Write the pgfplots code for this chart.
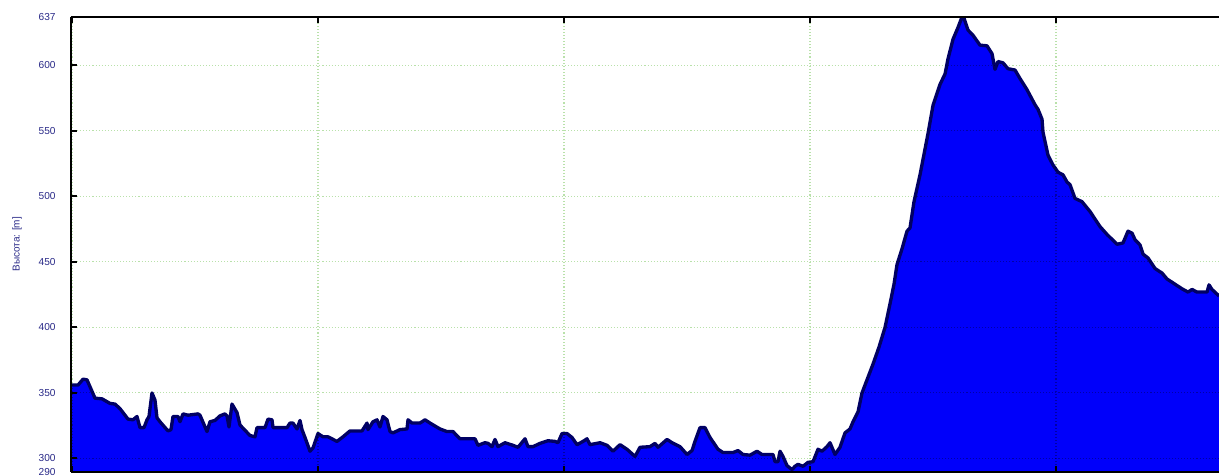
\documentclass[border=0pt]{standalone}
\usepackage{fontspec}
\setmainfont{Liberation Sans}
\usepackage{pgfplots}
\pgfplotsset{compat=1.18}
\usepackage{pgfplotstable}
\definecolor{fillblue}{RGB}{0,0,250}
\definecolor{edge}{RGB}{0,0,100}
\definecolor{lab}{RGB}{40,40,135}
\definecolor{gridg}{RGB}{185,225,170}
\pgfplotstableread{
x y
71 356
78 356
83 360.5
87 360
95 346
102 345.5
110 342
115 341.5
120 338
128 330
133 329.5
137 332
140 323.5
144 323.5
147 329.5
149 332
152 350
155 344.5
157 331
160 328
168 321
171 322
173 332
178 332
180 328
183 334
188 333
198 334
200 333
207 320.5
210 328
215 329
220 332.5
225 334
227 332.5
229 324
232 341.5
237 335
240 325.5
250 317.5
255 316.5
257 323.5
265 323.5
268 330
272 329.5
273 323.5
287 323.5
290 327
293 327
297 322.5
300 329
302 322
305 316
310 305.5
313 308
318 319
323 316.5
328 316.5
337 313
343 316.5
350 321
362 321
367 327
368 322
373 328
377 329.5
380 324
383 332
387 329.5
390 320.5
393 319.5
400 322
407 322.5
408 329.5
412 327
420 327
425 329.5
430 327
440 322.5
447 320.5
453 320.5
460 315
475 315
478 310
485 312
488 311.5
492 309
495 314.5
498 309
505 312
513 310
518 308.5
525 315
528 309
533 309
540 311.5
548 313.5
555 313
558 312
562 319
567 319
572 316
577 310.5
583 313
587 315
590 310.5
600 312
607 310
613 305.5
620 310.5
627 307
635 301.5
640 308.5
650 309
655 311.5
658 308.5
667 314.5
672 312
680 309
687 303
692 306
695 313
700 323.5
705 323.5
710 316
718 307
723 304.5
733 304.5
738 306
743 303
750 302.5
757 305.5
762 303
773 303
775 297.5
778 297.5
780 305.5
783 301.5
787 294.5
792 291.5
795 294
798 295.5
803 294
808 297
813 297.5
818 307
822 305.5
827 309
830 312
835 303
840 308.5
845 319.5
850 322.5
853 328
858 335.5
862 350
867 360
873 372
879 385
885 400
890 418
894 433
897 448
902 460
907 473.5
910 476
914 496
920 516.5
928 548
933 569.5
940 585.5
945 593.5
948 605
953 620
958 629
962 637
964 636
968 627
973 623
980 615.5
987 615
992 609
995 597
998 603
1003 602
1008 597.5
1015 596.5
1020 590
1027 581.5
1035 570
1038 566.5
1042 559
1043 549
1048 531.5
1053 524
1058 518.5
1063 516.5
1067 511
1070 509
1075 498.5
1082 496
1090 488.5
1100 477
1107 471
1117 463.5
1123 464.5
1128 473.5
1132 472
1135 467
1140 463
1143 456
1148 453
1155 445
1162 441.5
1167 437
1173 434
1182 429.5
1188 427
1192 429
1197 427
1207 427
1209 432.5
1212 429
1219 424
}\prof
\begin{document}
\begin{tikzpicture}
\begin{axis}[
 scale only axis, width=861pt, height=340.9pt,
 xmin=71, xmax=1219, ymin=290, ymax=637,
 axis y line*=left,
 axis line style={line width=1.5pt, black},
 xtick={72,318,564,810,1056}, xticklabels={},
 ytick={290,300,350,400,450,500,550,600,637},
 tick align=inside, major tick length=4.5pt,
 tick style={line width=1.5pt, black},
 grid=major,
 major grid style={gridg, line width=0.8pt, dash pattern=on 0.8pt off 1.5pt, blend mode=multiply},
 axis on top,
 /pgf/number format/assume math mode=true,
 yticklabel style={font=\fontsize{7.6}{9}\selectfont, text=lab, xshift=-8pt},
 ylabel={Высота: [m]},
 ylabel style={font=\fontsize{7.5}{9}\selectfont, text=lab, at={(axis description cs:-0.047,0.5)}, anchor=center},
 clip=true,
]
\addplot[draw=none, fill=fillblue] table[x=x,y=y]{\prof} \closedcycle;
\addplot[edge, line width=2.5pt, line join=round] table[x=x,y=y]{\prof};
\coordinate (A) at (rel axis cs:0,0);
\coordinate (B) at (rel axis cs:1,1);
\end{axis}
\pgfresetboundingbox
\path[use as bounding box] ([xshift=-53.25pt,yshift=-2.625pt]A) rectangle ([yshift=12.75pt]B);
\end{tikzpicture}
\end{document}
